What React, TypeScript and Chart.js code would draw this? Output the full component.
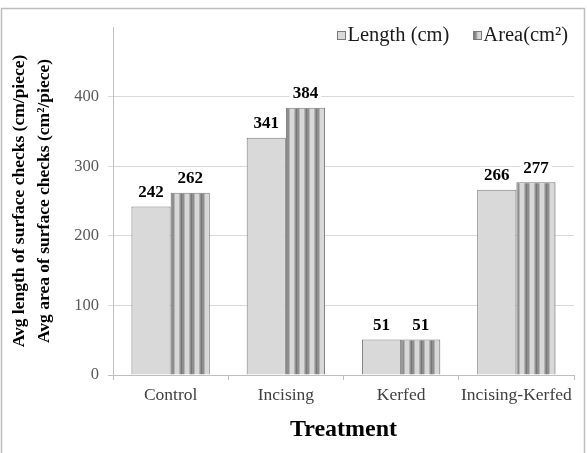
import React, { useEffect, useRef } from "react";
import { Chart, registerables } from "chart.js";

Chart.register(...registerables);

// Surface check measurements per treatment
const categories = ["Control", "Incising", "Kerfed", "Incising-Kerfed"];
const lengthValues = [242, 341, 51, 266];
const areaValues = [262, 384, 51, 277];
const seriesNames = ["Length (cm)", "Area(cm²)"];
const yTickValues = [0, 100, 200, 300, 400];
const yAxisTitle = [
  "Avg length of surface checks (cm/piece)",
  "Avg area of surface checks (cm²/piece)",
];
const xAxisTitle = "Treatment";

const SERIF = '"Liberation Serif", "Times New Roman", serif';
const LIGHT_FILL = "#d9d9d9";
const BAR_EDGE = "#7a7a7a";
const AXIS_GRAY = "#bfbfbf";
const GRID_GRAY = "#d9d9d9";

// One repeat of the vertical stripe fill used for the area series
function makeStripeTile(): HTMLCanvasElement {
  const tile = document.createElement("canvas");
  tile.width = 10;
  tile.height = 4;
  const t = tile.getContext("2d")!;
  const bands: [number, number, string][] = [
    [0, 1, "#767676"],
    [1, 3, "#8e8e8e"],
    [3, 4, "#b4b4b4"],
    [4, 8, "#d8d8d8"],
    [8, 9, "#b2b2b2"],
    [9, 10, "#939393"],
  ];
  for (const [a, b, c] of bands) {
    t.fillStyle = c;
    t.fillRect(a, 0, b - a, 4);
  }
  return tile;
}

function stripePattern(ctx: CanvasRenderingContext2D, tile: HTMLCanvasElement, offsetX: number) {
  const p = ctx.createPattern(tile, "repeat")!;
  p.setTransform(new DOMMatrix([1, 0, 0, 1, offsetX, 0]));
  return p;
}

export default function App() {
  const canvasRef = useRef<HTMLCanvasElement | null>(null);

  useEffect(() => {
    document.body.style.margin = "0";
    const canvas = canvasRef.current;
    if (!canvas) return;
    const tile = makeStripeTile();

    // Frame around the whole figure
    const framePlugin = {
      id: "frame",
      beforeDraw(chart: any) {
        const c = chart.ctx;
        c.save();
        c.fillStyle = "#ffffff";
        c.fillRect(0, 0, chart.width, chart.height);
        c.strokeStyle = "#bdbdbd";
        c.lineWidth = 1.5;
        c.strokeRect(1.5, 8.5, chart.width - 4, chart.height + 20);
        c.restore();
      },
    };

    // Value labels above each bar, on a white backing
    const valueLabels = {
      id: "valueLabels",
      afterDatasetsDraw(chart: any) {
        const c = chart.ctx;
        c.save();
        c.font = `bold 17px ${SERIF}`;
        c.textAlign = "center";
        c.textBaseline = "middle";
        chart.data.datasets.forEach((ds: any, di: number) => {
          const meta = chart.getDatasetMeta(di);
          meta.data.forEach((bar: any, i: number) => {
            const text = String(ds.data[i]);
            const w = c.measureText(text).width;
            const y = bar.y - 15;
            c.fillStyle = "#ffffff";
            c.fillRect(bar.x - w / 2 - 3, y - 8, w + 6, 16);
            c.fillStyle = "#000000";
            c.fillText(text, bar.x, y + 1);
          });
        });
        c.restore();
      },
    };

    // Legend inside the top-right of the plot
    const legendBox = {
      id: "legendBox",
      afterDraw(chart: any) {
        const c = chart.ctx;
        const area = chart.chartArea;
        c.save();
        c.font = `20.5px ${SERIF}`;
        c.textBaseline = "middle";
        c.textAlign = "left";
        const box = 8;
        const gapText = 2;
        const gapItem = 24;
        const widths = chart.data.datasets.map((d: any) => c.measureText(d.label).width);
        const total =
          widths.reduce((s: number, w: number) => s + box + gapText + w, 0) +
          gapItem * (widths.length - 1);
        let x = area.right - 6 - total;
        const yc = 35;
        chart.data.datasets.forEach((d: any, i: number) => {
          const bx = Math.round(x) + 0.5;
          const by = Math.round(yc - box / 2) + 0.5;
          c.fillStyle = i === 0 ? LIGHT_FILL : stripePattern(c, tile, bx);
          c.fillRect(bx, by, box, box);
          c.strokeStyle = BAR_EDGE;
          c.lineWidth = 1;
          c.strokeRect(bx, by, box, box);
          c.fillStyle = "#1a1a1a";
          c.fillText(d.label, x + box + gapText, yc + 1);
          x += box + gapText + widths[i] + gapItem;
        });
        c.restore();
      },
    };

    const chart = new Chart(canvas, {
      type: "bar",
      data: {
        labels: categories,
        datasets: [
          {
            label: seriesNames[0],
            data: lengthValues,
            backgroundColor: LIGHT_FILL,
            borderColor: BAR_EDGE,
            borderWidth: 1,
            categoryPercentage: 0.68,
            barPercentage: 1.0,
          },
          {
            label: seriesNames[1],
            data: areaValues,
            backgroundColor: (ctx: any) => {
              const xs = ctx.chart.scales?.x;
              const left = xs && ctx.dataIndex != null ? xs.getPixelForValue(ctx.dataIndex) : 0;
              return stripePattern(ctx.chart.ctx, tile, Math.round(left));
            },
            borderColor: BAR_EDGE,
            borderWidth: 1,
            categoryPercentage: 0.68,
            barPercentage: 1.0,
          },
        ],
      },
      options: {
        responsive: false,
        animation: false,
        events: [],
        layout: { padding: { top: 27, right: 13, left: 0, bottom: 0 } },
        plugins: {
          legend: { display: false },
          tooltip: { enabled: false },
        },
        scales: {
          x: {
            grid: {
              offset: true,
              drawOnChartArea: false,
              drawTicks: true,
              tickLength: 5,
              color: AXIS_GRAY,
            },
            border: { display: true, color: AXIS_GRAY, width: 1 },
            ticks: {
              color: "#404040",
              font: { family: SERIF, size: 17.5 },
              padding: 5,
              maxRotation: 0,
              autoSkip: false,
            },
            title: {
              display: true,
              text: xAxisTitle,
              color: "#000000",
              font: { family: SERIF, size: 24, weight: "bold", lineHeight: 1.2 },
              padding: { top: 0, bottom: 9 },
            },
            afterFit(scale: any) {
              scale.height = 78;
            },
          },
          y: {
            min: 0,
            max: 500,
            ticks: {
              stepSize: 100,
              color: "#595959",
              font: { family: SERIF, size: 16.5 },
              padding: 9,
              callback: (v: any) => (yTickValues.includes(Number(v)) ? String(v) : ""),
            },
            grid: {
              drawTicks: true,
              tickLength: 5,
              color: (ctx: any) => {
                const v = ctx.tick?.value;
                if (v === 0) return AXIS_GRAY;
                return yTickValues.includes(v) ? GRID_GRAY : "rgba(0,0,0,0)";
              },
            },
            border: { display: true, color: AXIS_GRAY, width: 1 },
            title: {
              display: true,
              text: yAxisTitle,
              color: "#000000",
              font: { family: SERIF, size: 17.5, weight: "bold", lineHeight: 1.42 },
              padding: { top: 7, bottom: 0 },
            },
            afterFit(scale: any) {
              scale.width = 113;
            },
          },
        },
      },
      plugins: [framePlugin, valueLabels, legendBox],
    } as any);

    return () => chart.destroy();
  }, []);

  return (
    <div style={{ width: 587, height: 453 }}>
      <canvas ref={canvasRef} width={587} height={453} />
    </div>
  );
}
